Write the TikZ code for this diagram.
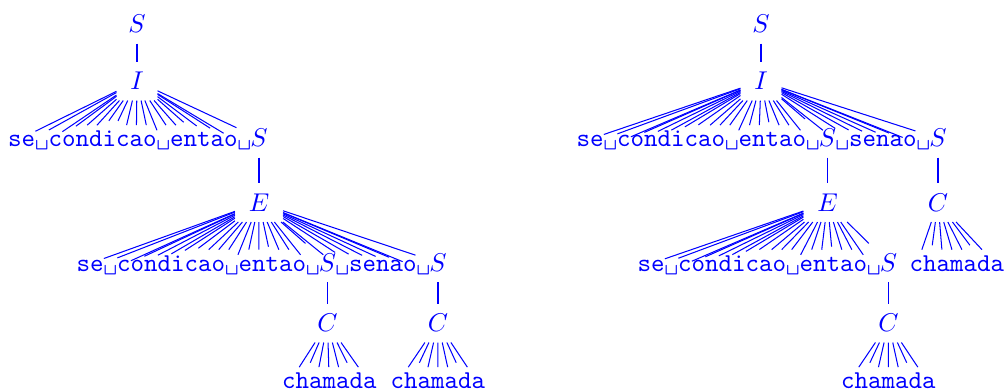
\documentclass[tikz,border=0pt]{standalone}
\usetikzlibrary{positioning}

\begin{document}
\begin{tikzpicture}[
  x=0.389pt, y=0.389pt,
  every node/.style={text=blue, anchor=base, inner xsep=5.2pt, inner ysep=3.9pt},
  chr/.style={font=\ttfamily},
  edge/.style={draw=blue, line width=0.4pt},
]
\useasboundingbox (0,0) rectangle (1006,392);

% left tree
\node (lS) at (137,359) {$S$};
\node (lI) at (137,302) {$I$};
\draw[edge] (lS) -- (lI);
\foreach \ch [count=\k from 0] in {s,e,\textvisiblespace,c,o,n,d,i,c,a,o,\textvisiblespace,e,n,t,a,o,\textvisiblespace}{
  \node[chr] (la\k) at (14.75+13.5*\k,245) {\ch};
  \draw[edge] (lI) -- (la\k);
}
\node (lSa) at (259,245) {$S$};
\draw[edge] (lI) -- (lSa);
\node (lE) at (259,180.5) {$E$};
\draw[edge] (lSa) -- (lE);
\foreach \ch [count=\k from 0] in {s,e,\textvisiblespace,c,o,n,d,i,c,a,o,\textvisiblespace,e,n,t,a,o,\textvisiblespace}{
  \node[chr] (lb\k) at (83.25+13.5*\k,120.5) {\ch};
  \draw[edge] (lE) -- (lb\k);
}
\node (lSb) at (327.5,120.5) {$S$};
\draw[edge] (lE) -- (lSb);
\foreach \ch [count=\k from 0] in {\textvisiblespace,s,e,n,a,o,\textvisiblespace}{
  \node[chr] (lc\k) at (342.25+13.5*\k,120.5) {\ch};
  \draw[edge] (lE) -- (lc\k);
}
\node (lSc) at (438,120.5) {$S$};
\draw[edge] (lE) -- (lSc);
\node (lCa) at (327.5,60) {$C$};
\node (lCb) at (438,60) {$C$};
\draw[edge] (lSb) -- (lCa);
\draw[edge] (lSc) -- (lCb);
\foreach \ch [count=\k from 0] in {c,h,a,m,a,d,a}{
  \node[chr] (ld\k) at (288.75+13.5*\k,3) {\ch};
  \draw[edge] (lCa) -- (ld\k);
  \node[chr] (le\k) at (397.25+13.5*\k,3) {\ch};
  \draw[edge] (lCb) -- (le\k);
}

% right tree
\node (rS) at (761,359) {$S$};
\node (rI) at (761,302) {$I$};
\draw[edge] (rS) -- (rI);
\foreach \ch [count=\k from 0] in {s,e,\textvisiblespace,c,o,n,d,i,c,a,o,\textvisiblespace,e,n,t,a,o,\textvisiblespace}{
  \node[chr] (ra\k) at (583.25+13.5*\k,245) {\ch};
  \draw[edge] (rI) -- (ra\k);
}
\node (rSa) at (827.5,245) {$S$};
\draw[edge] (rI) -- (rSa);
\foreach \ch [count=\k from 0] in {\textvisiblespace,s,e,n,a,o,\textvisiblespace}{
  \node[chr] (rb\k) at (842.25+13.5*\k,245) {\ch};
  \draw[edge] (rI) -- (rb\k);
}
\node (rSb) at (938,245) {$S$};
\draw[edge] (rI) -- (rSb);
\node (rE) at (827.5,180.5) {$E$};
\node (rCa) at (938,180.5) {$C$};
\draw[edge] (rSa) -- (rE);
\draw[edge] (rSb) -- (rCa);
\foreach \ch [count=\k from 0] in {s,e,\textvisiblespace,c,o,n,d,i,c,a,o,\textvisiblespace,e,n,t,a,o,\textvisiblespace}{
  \node[chr] (rc\k) at (644.25+13.5*\k,120.5) {\ch};
  \draw[edge] (rE) -- (rc\k);
}
\node (rSc) at (888.5,120.5) {$S$};
\draw[edge] (rE) -- (rSc);
\node (rCb) at (888.5,60) {$C$};
\draw[edge] (rSc) -- (rCb);
\foreach \ch [count=\k from 0] in {c,h,a,m,a,d,a}{
  \node[chr] (rd\k) at (916.25+13.5*\k,120.5) {\ch};
  \draw[edge] (rCa) -- (rd\k);
  \node[chr] (re\k) at (847.75+13.5*\k,3) {\ch};
  \draw[edge] (rCb) -- (re\k);
}
\end{tikzpicture}
\end{document}
